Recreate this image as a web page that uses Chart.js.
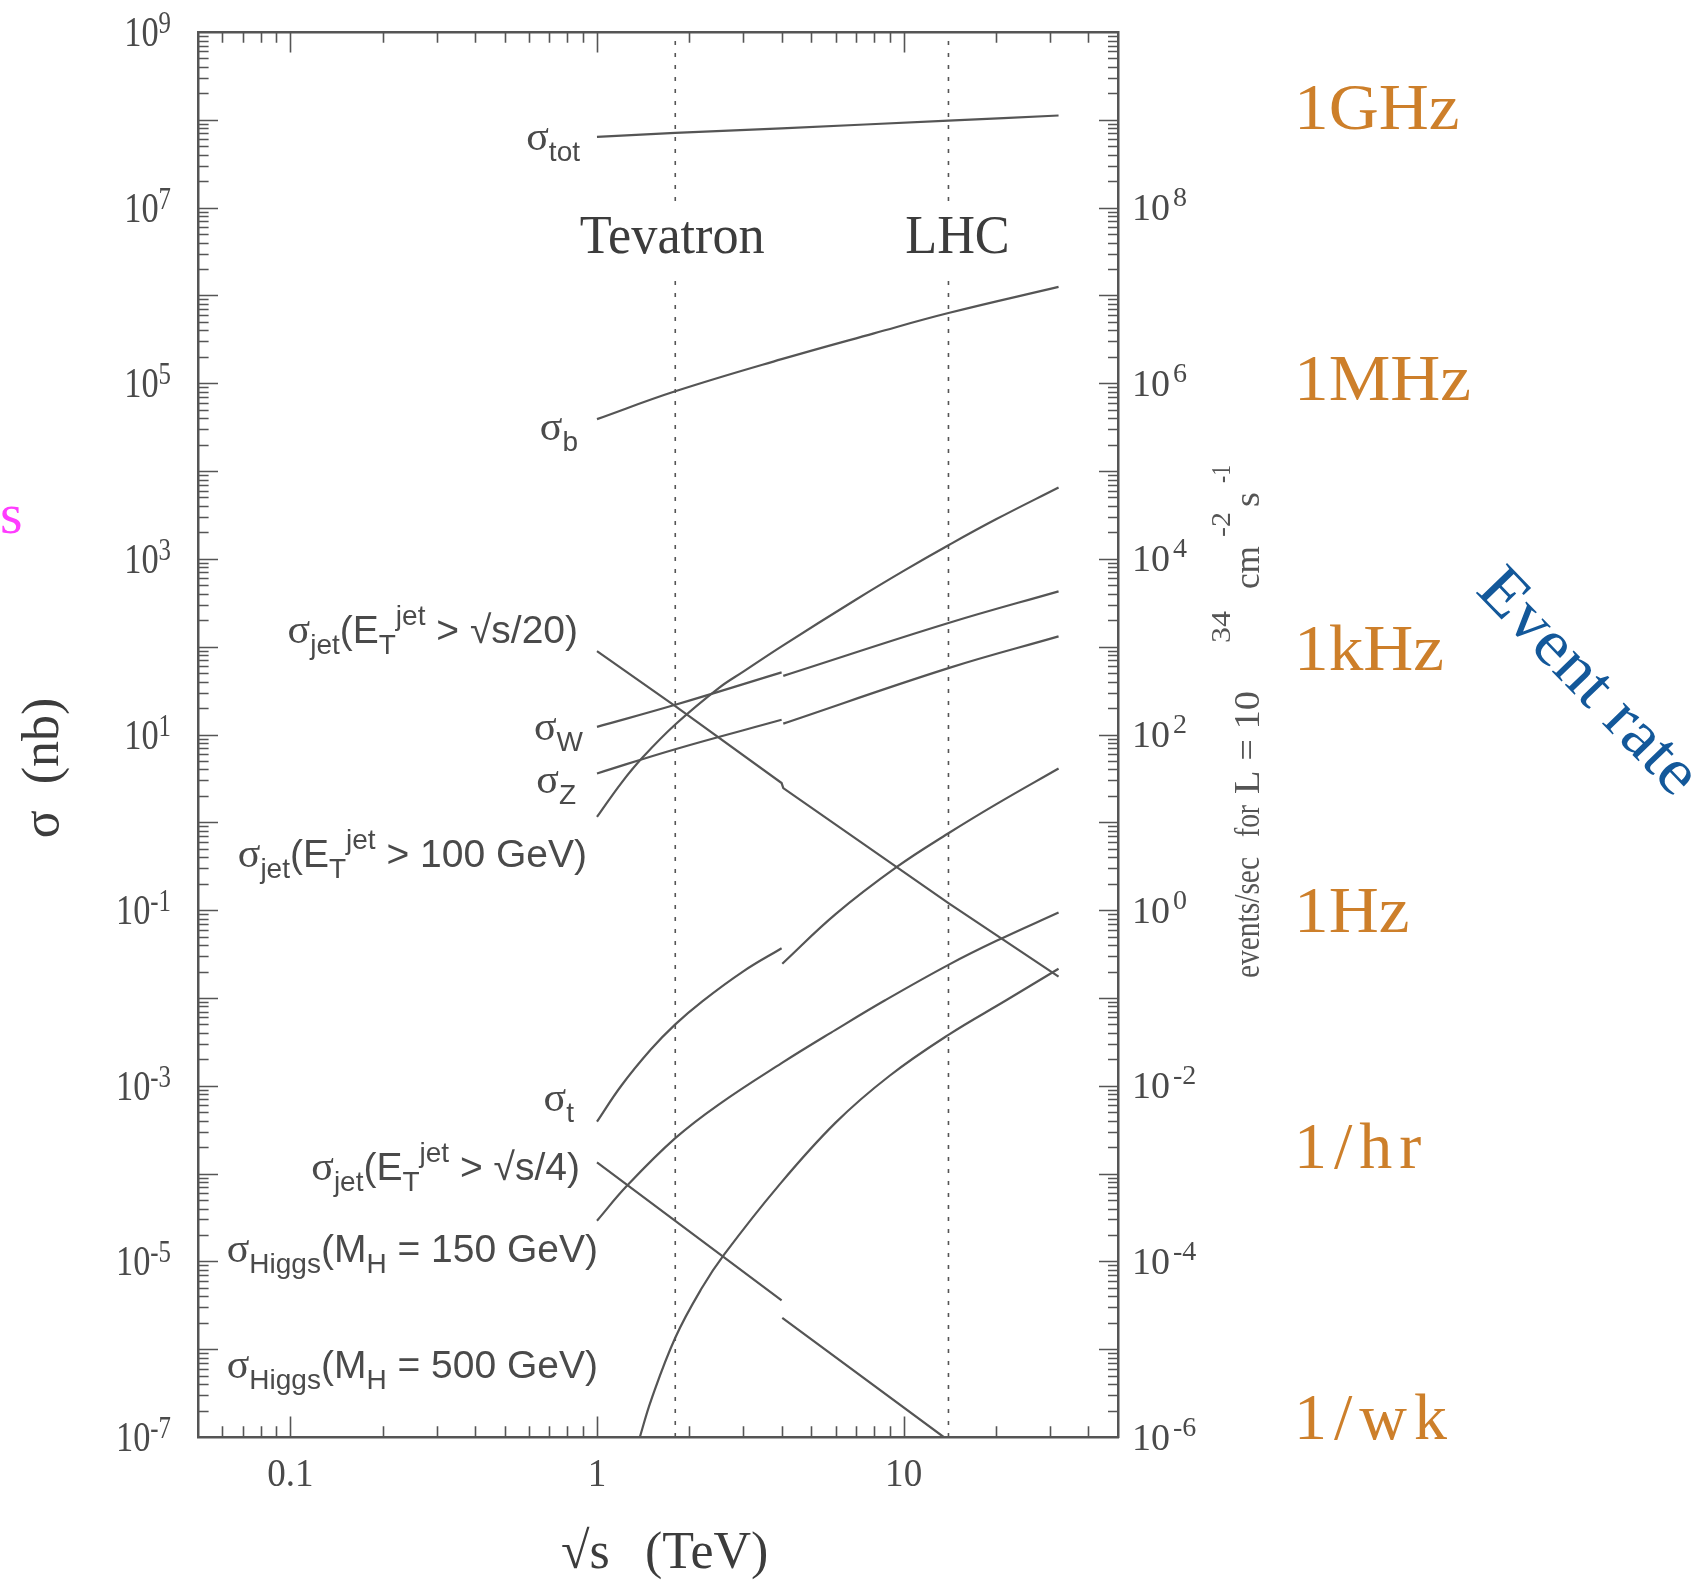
<!DOCTYPE html>
<html>
<head>
<meta charset="utf-8">
<script src="https://cdn.jsdelivr.net/npm/chart.js@4.4.1/dist/chart.umd.min.js"></script>
<style>
html,body{margin:0;padding:0;background:#fff;overflow:hidden}
canvas{display:block}
</style>
</head>
<body>
<canvas id="c" width="1694" height="1580" style="width:1694px;height:1580px"></canvas>
<script>
// ---------- axis ranges ----------
const X_MIN = 0.05, X_MAX = 50;
const Y_MIN = 1e-7, Y_MAX = 1e9;
const RATE_FACTOR = 10; // events/sec per nb at L = 1e34 cm^-2 s^-1

// ---------- tick labels ----------
const xTickLabels = [0.1, 1, 10];
const yTickExps = [-7, -5, -3, -1, 1, 3, 5, 7, 9];
const rateTickExps = [-6, -4, -2, 0, 2, 4, 6, 8];
const rateNames = ['1GHz', '1MHz', '1kHz', '1Hz', '1/hr', '1/wk'];

// ---------- colliders ----------
const colliderX = [1.8, 14];
const colliderNames = ['Tevatron', 'LHC'];

// ---------- cross sections (nb) vs sqrt(s) (TeV); null = break at the ppbar -> pp switch ----------
const totX = [1, 1.8, 4, 14, 32];
const totY = [6.4e7, 7.1e7, 8.0e7, 9.8e7, 1.12e8];

const bX = [1, 1.8, 4, 8, 14, 32];
const bY = [3.9e4, 8.1e4, 1.88e5, 3.7e5, 6.3e5, 1.25e6];

const jet20X = [1, 1.8, 4, 4.05, 14, 32];
const jet20Y = [89, 21, 2.8, 2.45, 0.12, 0.0175];

const wX = [1, 1.8, 4, 4, 4.05, 14, 32];
const wY = [12.2, 21.8, 51, null, 46.5, 186, 427];

const zX = [1, 1.8, 4, 4, 4.05, 14, 32];
const zY = [3.6, 6.8, 14.7, null, 13.3, 57, 131];

const jet100X = [1, 1.2, 1.41, 1.8, 2.5, 3, 4, 7, 10, 14, 20, 32];
const jet100Y = [1.15, 2.8, 5.5, 13, 34, 52, 101, 345, 730, 1430, 2820, 6500];

const topX = [1, 1.2, 1.5, 1.8, 2.2, 3, 4, 4, 4.02, 6, 9.5, 14, 20, 32];
const topY = [3.9e-4, 1.0e-3, 2.6e-3, 5.0e-3, 9.1e-3, 0.0201, 0.0368, null, 0.0245, 0.09, 0.31, 0.75, 1.6, 4.1];

const jet4X = [1, 1.8, 4, 4, 4.02, 13.5];
const jet4Y = [1.34e-4, 2.9e-5, 3.6e-6, null, 2.27e-6, 1e-7];

const h150X = [1, 1.25, 1.8, 2.5, 4, 6, 8.7, 14, 20, 32];
const h150Y = [2.9e-5, 7.2e-5, 2.53e-4, 6.15e-4, 1.81e-3, 4.33e-3, 9.4e-3, 0.0238, 0.0444, 0.094];

const h500X = [1.38, 1.5, 1.8, 2.2, 2.6, 3.9, 6, 9, 14, 21.6, 32];
const h500Y = [1e-7, 2.6e-7, 1.35e-6, 5.0e-6, 1.2e-5, 7.2e-5, 3.8e-4, 1.3e-3, 3.8e-3, 9.4e-3, 0.0215];

// ---------- styling ----------
const SERIF = '"Liberation Serif", "Times New Roman", serif';
const SANS = '"Liberation Sans", Arial, sans-serif';
const INK = '#4a4a4a';
const LINE = '#555555';
const ORANGE = '#CD7F2A';
const BLUE = '#13589A';
const MAGENTA = '#FF3CFF';

function pts(xs, ys) { return xs.map((x, i) => ({ x: x, y: ys[i] })); }

const smooth = { borderColor: LINE, borderWidth: 2.2, pointRadius: 0, fill: false, tension: 0.4 };
const straight = { borderColor: LINE, borderWidth: 2.2, pointRadius: 0, fill: false, tension: 0 };

const datasets = [
  ...colliderX.map((cx, i) => ({
    label: colliderNames[i],
    data: [{ x: cx, y: Y_MIN }, { x: cx, y: Y_MAX }],
    borderColor: LINE, borderWidth: 1.6, borderDash: [4, 8], pointRadius: 0, tension: 0
  })),
  { label: 'σtot', data: pts(totX, totY), ...smooth },
  { label: 'σb', data: pts(bX, bY), ...smooth },
  { label: 'σjet(ET>√s/20)', data: pts(jet20X, jet20Y), ...straight },
  { label: 'σW', data: pts(wX, wY), ...smooth },
  { label: 'σZ', data: pts(zX, zY), ...smooth },
  { label: 'σjet(ET>100 GeV)', data: pts(jet100X, jet100Y), ...smooth },
  { label: 'σt', data: pts(topX, topY), ...smooth },
  { label: 'σjet(ET>√s/4)', data: pts(jet4X, jet4Y), ...straight },
  { label: 'σHiggs(MH=150 GeV)', data: pts(h150X, h150Y), ...smooth },
  { label: 'σHiggs(MH=500 GeV)', data: pts(h500X, h500Y), ...smooth }
];

// ---------- text helpers ----------
function drawText(ctx, s, x, y, font, color, align, sx) {
  ctx.save();
  ctx.font = font; ctx.fillStyle = color; ctx.textBaseline = 'alphabetic';
  ctx.textAlign = align || 'left';
  ctx.translate(x, y); ctx.scale(sx || 1, 1);
  ctx.fillText(s, 0, 0);
  ctx.restore();
}

function drawPow(ctx, e, x, base, o) {
  ctx.save();
  ctx.font = o.main; const w1 = ctx.measureText('10').width * o.sx;
  ctx.font = o.sup; const w2 = ctx.measureText(String(e)).width * o.sx;
  const x0 = o.align === 'right' ? x - w1 - o.gap - w2 : x;
  drawText(ctx, '10', x0, base, o.main, o.color, 'left', o.sx);
  drawText(ctx, String(e), x0 + w1 + o.gap, base - o.raise, o.sup, o.color, 'left', o.sx);
  ctx.restore();
}

const ROLE = {
  sig: { font: '42px ' + SERIF, dy: 0 },
  main: { font: '39px ' + SANS, dy: 0 },
  sub: { font: '28px ' + SANS, dy: 11 },
  sup: { font: '28px ' + SANS, dy: -18 }
};

function drawRich(ctx, segs, right, base) {
  ctx.save();
  let total = 0;
  const ws = segs.map(([t, r]) => { ctx.font = ROLE[r].font; const w = ctx.measureText(t).width; total += w; return w; });
  let x = right - total;
  segs.forEach(([t, r], i) => {
    drawText(ctx, t, x, base + ROLE[r].dy, ROLE[r].font, INK, 'left', 1);
    x += ws[i];
  });
  ctx.restore();
}

const curveLabels = [
  { segs: [['σ', 'sig'], ['tot', 'sub']], right: 580, base: 150 },
  { segs: [['σ', 'sig'], ['b', 'sub']], right: 578, base: 440 },
  { segs: [['σ', 'sig'], ['jet', 'sub'], ['(E', 'main'], ['T', 'sub'], ['jet', 'sup'], [' > √s/20)', 'main']], right: 578, base: 643 },
  { segs: [['σ', 'sig'], ['W', 'sub']], right: 583, base: 740 },
  { segs: [['σ', 'sig'], ['Z', 'sub']], right: 576, base: 793 },
  { segs: [['σ', 'sig'], ['jet', 'sub'], ['(E', 'main'], ['T', 'sub'], ['jet', 'sup'], [' > 100 GeV)', 'main']], right: 587, base: 867 },
  { segs: [['σ', 'sig'], ['t', 'sub']], right: 574, base: 1111 },
  { segs: [['σ', 'sig'], ['jet', 'sub'], ['(E', 'main'], ['T', 'sub'], ['jet', 'sup'], [' > √s/4)', 'main']], right: 580, base: 1180 },
  { segs: [['σ', 'sig'], ['Higgs', 'sub'], ['(M', 'main'], ['H', 'sub'], [' = 150 GeV)', 'main']], right: 598, base: 1262 },
  { segs: [['σ', 'sig'], ['Higgs', 'sub'], ['(M', 'main'], ['H', 'sub'], [' = 500 GeV)', 'main']], right: 598, base: 1378 }
];

const rateLabelPos = [129, 400, 670, 932, 1168, 1439];

// right axis title pieces: start/end along the vertical (text reads upwards)
const rightTitle = [
  { t: 'events/sec', start: 978, end: 857, size: 36, sup: false },
  { t: 'for', start: 837, end: 805, size: 36, sup: false },
  { t: 'L = 10', start: 794, end: 691, size: 36, sup: false },
  { t: '34', start: 643, end: 611, size: 27, sup: true },
  { t: 'cm', start: 589, end: 546, size: 36, sup: false },
  { t: '-2', start: 537, end: 512, size: 27, sup: true },
  { t: 's', start: 507, end: 492, size: 36, sup: false },
  { t: '-1', start: 483, end: 465, size: 27, sup: true }
];

const colliderOffset = [-3, 9];

const decor = {
  id: 'decor',
  afterDatasetsDraw(chart) {
    const ctx = chart.ctx;
    const xs = chart.scales.x;
    colliderX.forEach((cx, i) => {
      const px = xs.getPixelForValue(cx);
      ctx.save();
      ctx.font = '55px ' + SERIF;
      const w = ctx.measureText(colliderNames[i]).width * 0.95;
      ctx.fillStyle = '#fff';
      ctx.fillRect(px + colliderOffset[i] - w / 2 - 4, 206, w + 8, 71);
      ctx.restore();
      drawText(ctx, colliderNames[i], px + colliderOffset[i], 253, '55px ' + SERIF, '#3c3c3c', 'center', 0.95);
    });
    curveLabels.forEach(l => drawRich(ctx, l.segs, l.right, l.base));
  },
  afterDraw(chart) {
    const ctx = chart.ctx;
    const a = chart.chartArea;
    const xs = chart.scales.x, ys = chart.scales.y, yr = chart.scales.yRate;

    // tick marks (inside the frame)
    ctx.save();
    ctx.strokeStyle = LINE; ctx.lineWidth = 1.6;
    ctx.beginPath();
    for (let e = -2; e <= 1; e++) {
      for (let k = 1; k <= 9; k++) {
        const v = k * Math.pow(10, e);
        if (v <= X_MIN * 1.001 || v >= X_MAX * 0.999) continue;
        const px = Math.round(xs.getPixelForValue(v)) + 0.5;
        const len = k === 1 ? 20.5 : 10.7;
        ctx.moveTo(px, a.bottom); ctx.lineTo(px, a.bottom - len);
        ctx.moveTo(px, a.top); ctx.lineTo(px, a.top + len);
      }
    }
    for (let e = -7; e <= 8; e++) {
      for (let k = 1; k <= 9; k++) {
        const v = k * Math.pow(10, e);
        const py = Math.round(ys.getPixelForValue(v)) + 0.5;
        if (py <= a.top + 1.5 || py >= a.bottom - 1.5) continue;
        const len = k === 1 ? 20 : 10.6;
        ctx.moveTo(a.left, py); ctx.lineTo(a.left + len, py);
        ctx.moveTo(a.right, py); ctx.lineTo(a.right - (k === 1 ? 19 : 10), py);
      }
    }
    ctx.stroke();
    ctx.restore();

    // left tick labels
    yTickExps.forEach(e => {
      const py = ys.getPixelForValue(Math.pow(10, e));
      drawPow(ctx, e, 171, py + 14, { main: '43px ' + SERIF, sup: '31px ' + SERIF, sx: 0.8, gap: 0, raise: 13, align: 'right', color: INK });
    });
    // right tick labels (event rate)
    rateTickExps.forEach(e => {
      const py = yr.getPixelForValue(Math.pow(10, e));
      drawPow(ctx, e, 1132, py + 12.5, { main: '38px ' + SERIF, sup: '28px ' + SERIF, sx: 1, gap: 3, raise: 14, align: 'left', color: INK });
    });
    // bottom tick labels
    xTickLabels.forEach(v => {
      drawText(ctx, String(v), xs.getPixelForValue(v), 1486, '39px ' + SERIF, INK, 'center', 0.95);
    });

    // x axis title
    drawText(ctx, '√s', 561, 1568, '52px ' + SERIF, '#3c3c3c', 'left', 1);
    drawText(ctx, '(TeV)', 645, 1568, '52px ' + SERIF, '#3c3c3c', 'left', 1);

    // left axis title
    ctx.save();
    ctx.translate(58, 768); ctx.rotate(-Math.PI / 2);
    ctx.font = '52px ' + SERIF; ctx.fillStyle = '#3c3c3c'; ctx.textAlign = 'center'; ctx.textBaseline = 'alphabetic';
    ctx.fillText('σ  (nb)', 0, 0);
    ctx.restore();

    // right axis title
    ctx.save();
    ctx.translate(1259, 0); ctx.rotate(-Math.PI / 2);
    ctx.fillStyle = '#555'; ctx.textBaseline = 'alphabetic'; ctx.textAlign = 'left';
    rightTitle.forEach(s => {
      ctx.save();
      ctx.font = s.size + 'px ' + SERIF;
      const nat = ctx.measureText(s.t).width;
      ctx.translate(-s.start, s.sup ? -29 : 0);
      ctx.scale((s.start - s.end) / nat, 1);
      ctx.fillText(s.t, 0, 0);
      ctx.restore();
    });
    ctx.restore();

    // event-rate annotations
    rateNames.forEach((n, i) => {
      ctx.save();
      ctx.font = '66px ' + SERIF; ctx.fillStyle = ORANGE; ctx.textBaseline = 'alphabetic';
      if (n.indexOf('/') >= 0) { try { ctx.letterSpacing = '7px'; } catch (err) {} }
      ctx.translate(1294, rateLabelPos[i]); ctx.scale(n.indexOf('/') >= 0 ? 1 : 1.05, 1);
      ctx.fillText(n, 0, 0);
      ctx.restore();
    });

    // "Event rate"
    ctx.save();
    ctx.translate(1587, 683); ctx.rotate(46 * Math.PI / 180); ctx.scale(1.07, 1);
    ctx.font = '66px ' + SERIF; ctx.fillStyle = BLUE; ctx.textAlign = 'center'; ctx.textBaseline = 'middle';
    ctx.fillText('Event rate', 0, 0);
    ctx.restore();

    // cropped magenta letter at the left edge
    drawText(ctx, 's', 0, 533, '58px ' + SERIF, MAGENTA, 'left', 1);
  }
};

const hiddenAxis = (pos, min, max) => ({
  type: 'logarithmic', position: pos, min: min, max: max,
  ticks: { display: false }, grid: { display: false, drawTicks: false, tickLength: 0 },
  border: { display: true, color: LINE, width: 2.5 }
});

new Chart(document.getElementById('c').getContext('2d'), {
  type: 'line',
  data: { datasets: datasets },
  options: {
    responsive: false,
    animation: false,
    devicePixelRatio: 1,
    layout: { padding: { left: 198, right: 576, top: 32, bottom: 143 } },
    plugins: { legend: { display: false }, tooltip: { enabled: false }, title: { display: false } },
    elements: { point: { radius: 0 } },
    scales: {
      x: hiddenAxis('bottom', X_MIN, X_MAX),
      xTop: hiddenAxis('top', X_MIN, X_MAX),
      y: hiddenAxis('left', Y_MIN, Y_MAX),
      yRate: hiddenAxis('right', Y_MIN * RATE_FACTOR, Y_MAX * RATE_FACTOR)
    }
  },
  plugins: [decor]
});
</script>
</body>
</html>
